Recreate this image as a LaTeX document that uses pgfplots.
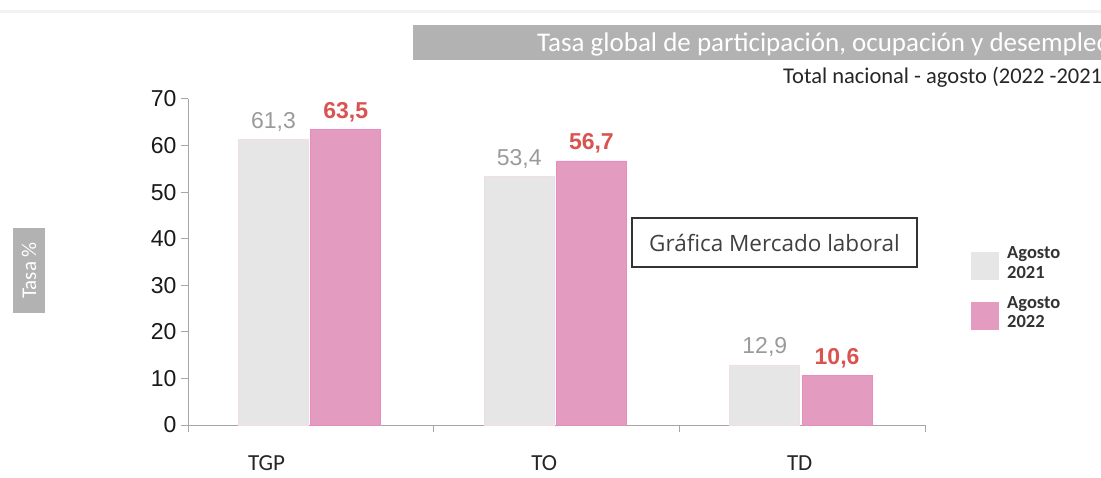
\documentclass[border=0pt]{standalone}
\usepackage{pgfplots}
\pgfplotsset{compat=1.18}
\usepackage{fontspec}
\setmainfont{Liberation Sans}
\newfontfamily\carlito{Carlito}
\newfontfamily\opensans{Open Sans}
\definecolor{barGray}{HTML}{E6E6E6}
\definecolor{barGrayEdge}{HTML}{F3DCE6}
\definecolor{barPink}{HTML}{E39CC0}
\definecolor{barPinkEdge}{HTML}{E88CC0}
\definecolor{valGray}{HTML}{9A9A9A}
\definecolor{valRed}{HTML}{D9534F}
\definecolor{axGray}{HTML}{A6A6A6}
\definecolor{banner}{HTML}{B2B2B2}
\definecolor{legGray}{HTML}{D3D3D3}

\pgfplotstableread{
x y
0 61.3
1 53.4
2 12.9
}\datagray
\pgfplotstableread{
x y
0 63.5
1 56.7
2 10.6
}\datapink

\begin{document}
\begin{tikzpicture}[x=1pt,y=1pt]
\useasboundingbox (0,0) rectangle (1101,477);
\draw[color=black!5, line width=2.5pt] (0,465.5) -- (1101,465.5);
\begin{scope}
\clip (0,0) rectangle (1101,477);
\fill[banner] (413,417) rectangle (1110,452);
\node[anchor=base west, inner sep=0, text=white, font=\carlito\fontsize{27}{30}\selectfont] at (537,425) {Tasa global de participación, ocupación y desempleo};
\node[anchor=base west, inner sep=0, text=black!85, font=\carlito\fontsize{22.5}{25}\selectfont] at (783,393) {Total nacional - agosto (2022 -2021)};
\end{scope}
\fill[banner] (13,164) rectangle (45,249);
\node[rotate=90, text=white, font=\carlito\fontsize{21}{24}\selectfont] at (29,206.5) {Tasa \%};
\draw[black!80, line width=1.1pt] (632,259) rectangle (917,210);
\node[text=black!75, font=\opensans\fontsize{22.5}{26}\selectfont] at (774.5,234.5) {Gráfica Mercado laboral};

\begin{axis}[
  at={(188pt,52pt)}, anchor=south west,
  scale only axis, width=737pt, height=326pt,
  xmin=-0.5, xmax=2.5, ymin=0, ymax=70,
  axis lines*=left,
  axis line style={axGray, line width=1pt},
  tick style={axGray, line width=1pt},
  tick align=outside,
  major tick length=7pt,
  ytick={0,10,...,70},
  yticklabel style={font=\fontsize{23}{26}\selectfont, text=black!90, xshift=-1pt},
  xtick={-0.5,0.5,1.5,2.5},
  xticklabels={},
  extra x ticks={-0.18,0.95,1.99},
  extra x tick labels={TGP,TO,TD},
  extra x tick style={major tick length=0pt, tick style={draw=none},
     xticklabel style={font=\carlito\fontsize{23}{26}\selectfont, text=black!85, yshift=-27pt}},
  /pgf/number format/assume math mode=true,
  bar width=0.2846,
  ybar,
  nodes near coords={\pgfmathprintnumber[fixed,fixed zerofill,precision=1,use comma]{\pgfplotspointmeta}},
  legend cell align=left,
  legend style={at={(1.0624,0.547)}, anchor=north west, draw=none, fill=none, inner sep=0pt,
     font=\carlito\bfseries\fontsize{18.5}{19.5}\selectfont, text=black!80, row sep=16pt,
     nodes={align=left, inner sep=0pt, yshift=3pt}},
  legend image code/.code={\fill[#1, draw=none] (0pt,-14pt) rectangle (28pt,14pt);
     \path[draw=none, fill=none] (0pt,-14pt) rectangle (36pt,14pt);},
]
\addplot[fill=barGray, draw=barGrayEdge, line width=0.8pt, bar shift=-0.152,
  every node near coord/.append style={anchor=base, yshift=11pt, text=valGray, font=\fontsize{23}{26}\selectfont}]
  table[x=x,y=y] {\datagray};
\addlegendentry{Agosto\\2021}
\addplot[fill=barPink, draw=barPinkEdge, line width=0.8pt, bar shift=0.142,
  every node near coord/.append style={anchor=base, yshift=11pt, text=valRed, font=\bfseries\fontsize{23}{26}\selectfont}]
  table[x=x,y=y] {\datapink};
\addlegendentry{Agosto\\2022}
\end{axis}
\end{tikzpicture}
\end{document}
